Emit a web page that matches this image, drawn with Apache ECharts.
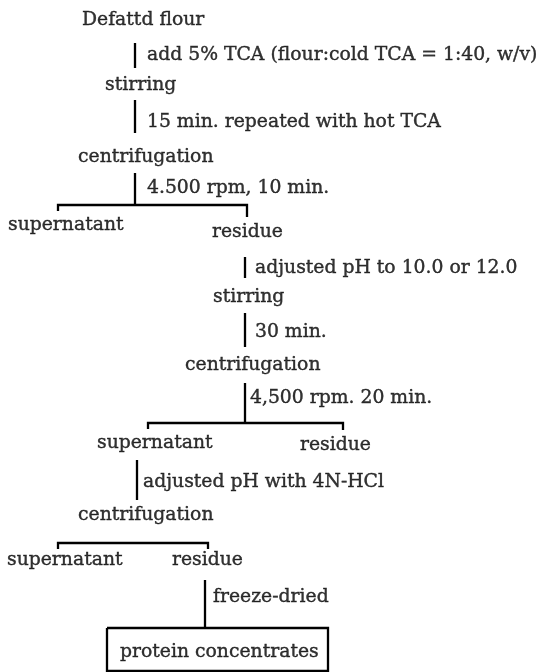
<!DOCTYPE html>
<html>
<head>
<meta charset="utf-8">
<script src="https://cdn.jsdelivr.net/npm/echarts@6/dist/echarts.min.js"></script>
<style>
  html, body { margin: 0; padding: 0; background: #fff; }
  #flow { width: 547px; height: 672px; }
</style>
</head>
<body>
<div id="flow"></div>
<script>

// flow steps: text, left edge x, middle y (page units)
var stepText = [
    'Defattd flour',
    'add 5% TCA (flour:cold TCA = 1:40, w/v)',
    'stirring',
    '15 min. repeated with hot TCA',
    'centrifugation',
    '4.500 rpm, 10 min.',
    'supernatant',
    'residue',
    'adjusted pH to 10.0 or 12.0',
    'stirring',
    '30 min.',
    'centrifugation',
    '4,500 rpm. 20 min.',
    'supernatant',
    'residue',
    'adjusted pH with 4N-HCl',
    'centrifugation',
    'supernatant',
    'residue',
    'freeze-dried',
    'protein concentrates'
];
var stepX = [82, 147, 105, 147, 78, 147, 8, 212, 255, 213, 255, 185, 250, 97, 300, 143, 78, 7, 172, 213, 120];
var stepY = [20, 55, 85, 122, 157, 188, 225, 232, 268, 297, 332, 365, 398, 443, 445, 482, 515, 560, 560, 597, 652];

// vertical connectors: x, top, bottom
var stems = [
    [135, 43, 68],
    [135, 100, 133],
    [135, 173, 205],
    [245, 257, 278],
    [245, 313, 347],
    [245, 383, 423],
    [137, 460, 500],
    [205, 580, 628]
];

// split brackets: left x, right x, y, left drop, right drop
var brackets = [
    [58, 247, 205, 6, 12],
    [148, 343, 423, 6, 7],
    [58, 208, 543, 6, 6]
];

// result box: left, right, top, bottom
var resultBox = [107, 328, 628, 671];

var textData = stepText.map(function (t, i) {
    return { name: t, value: [stepX[i], stepY[i]] };
});

var lineData = [];
stems.forEach(function (s) {
    lineData.push({ coords: [[s[0], s[1]], [s[0], s[2]]] });
});
brackets.forEach(function (b) {
    lineData.push({ coords: [[b[0], b[2] + b[3]], [b[0], b[2]], [b[1], b[2]], [b[1], b[2] + b[4]]] });
});
lineData.push({
    coords: [
        [resultBox[0], resultBox[2]], [resultBox[1], resultBox[2]],
        [resultBox[1], resultBox[3]], [resultBox[0], resultBox[3]],
        [resultBox[0], resultBox[2]]
    ]
});

var option = {
    animation: false,
    backgroundColor: '#fff',
    grid: { left: 0, right: 0, top: 0, bottom: 0 },
    xAxis: { type: 'value', min: 0, max: 547, show: false },
    yAxis: { type: 'value', min: 0, max: 672, inverse: true, show: false },
    series: [{
        type: 'lines',
        coordinateSystem: 'cartesian2d',
        polyline: true,
        silent: true,
        lineStyle: { color: '#000', width: 2.3, opacity: 1 },
        data: lineData
    }, {
        type: 'scatter',
        symbolSize: 0,
        silent: true,
        label: {
            show: true,
            position: 'right',
            distance: 0,
            formatter: '{b}',
            color: '#000',
            textBorderColor: '#000',
            textBorderWidth: 0.4,
            fontFamily: 'DejaVu Serif',
            fontSize: 18.8
        },
        data: textData
    }]
};

var chart = echarts.init(document.getElementById('flow'));
chart.setOption(option);
</script>
</body>
</html>
